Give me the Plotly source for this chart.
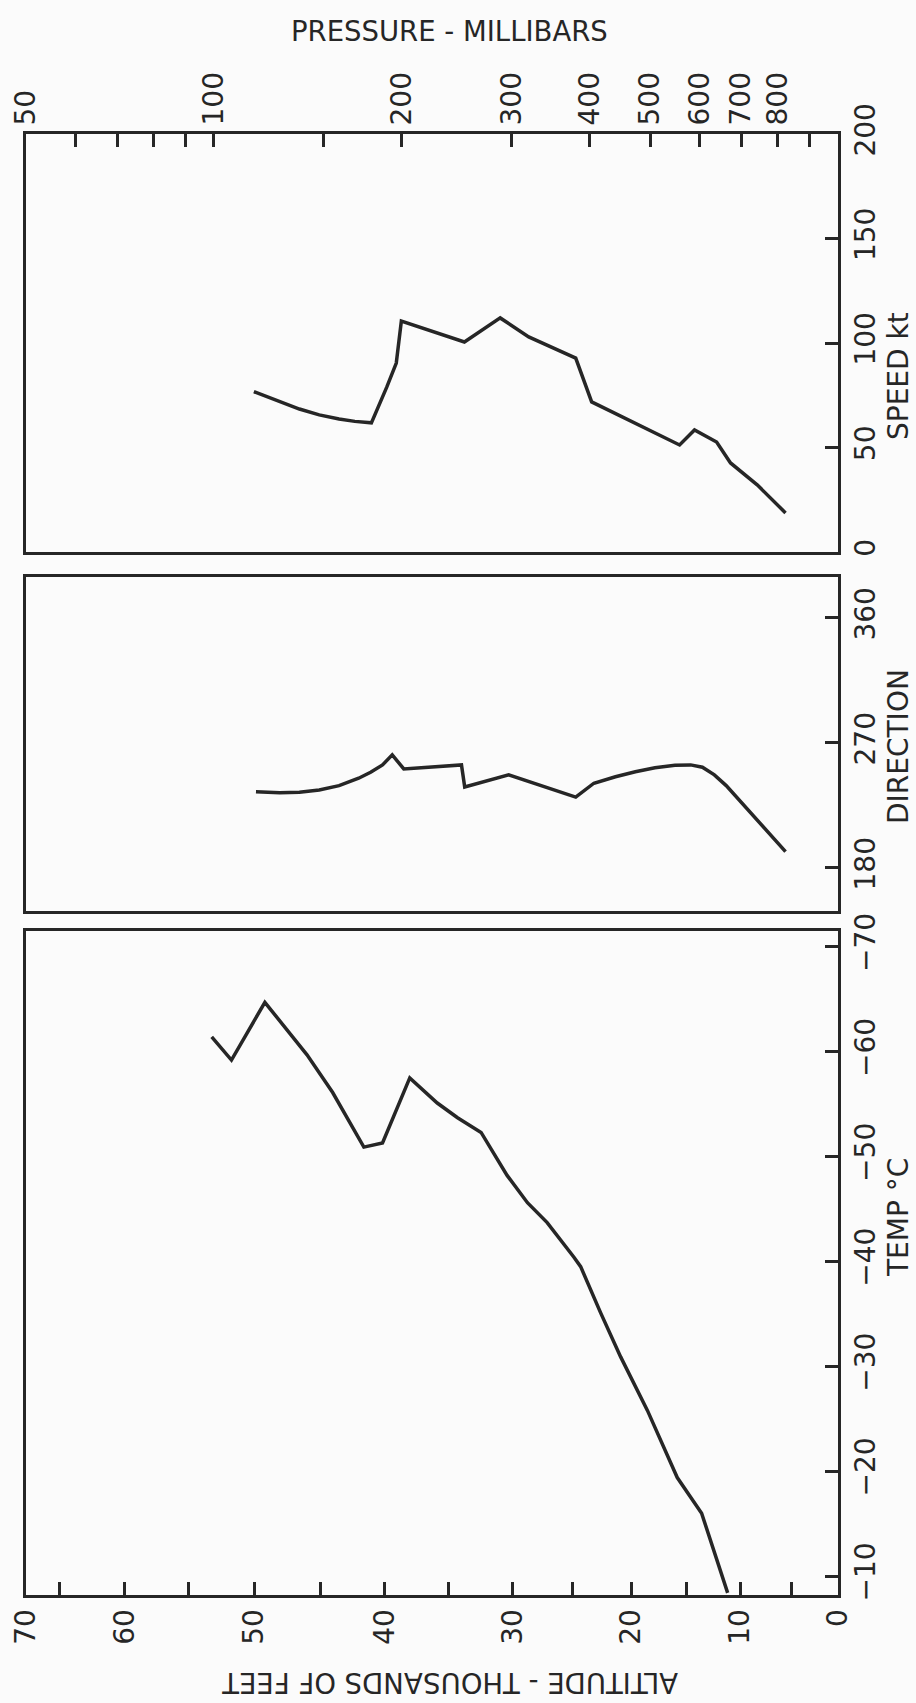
import math
import plotly.graph_objects as go

# ---------------- data ----------------
# top axis: pressure (mb), log scale
pressure_ticks = [50, 60, 70, 80, 90, 100, 150, 200, 300, 400, 500, 600, 700, 800, 900]
pressure_labels = ["50", "", "", "", "", "100", "", "200", "300", "400", "500", "600", "700", "800", ""]

# bottom axis: altitude (thousands of feet) ticks, located at their pressure levels
altitude_tick_pressure = [50, 56.5, 72, 91, 116, 148, 188, 238, 301, 376, 466, 572, 697, 843, 1000]
altitude_labels = ["70", "", "60", "", "50", "", "40", "", "30", "", "20", "", "10", "", "0"]

speed_ticks = [0, 50, 100, 150, 200]
direction_ticks = [180, 270, 360]
temp_ticks = [-70, -60, -50, -40, -30, -20, -10]

# wind speed profile
speed_p = [115.9, 127.5, 137.1, 147.5, 158.7, 168.2, 178.8, 189.3, 196, 199.7, 252, 287.6,
           319.5, 380, 403, 557.4, 589, 639, 672.7, 743, 824]
speed_kt = [76.7, 71.9, 68.4, 65.6, 63.6, 62.5, 61.8, 79, 90.4, 110.5, 100.5, 112,
            102.9, 92.8, 71.8, 51.2, 58.4, 52.6, 42.6, 32, 18.7]

# wind direction profile
dir_p = [116.8, 127.5, 137.1, 147.5, 158.7, 170.6, 178.3, 186.3, 193.1, 201.5, 249.3,
         252.3, 296.7, 380, 406.3, 440, 473.5, 509, 548, 580.7, 606.4, 633.7, 662, 733, 824]
dir_deg = [234.9, 234.2, 234.5, 236.2, 239.3, 244.6, 248.9, 254.2, 261.4, 251.3, 254.2,
           238.3, 247, 231, 241, 245.7, 249.3, 252.2, 253.9, 254.2, 252.5, 247, 239.3, 216.9, 191.7]

# temperature profile
temp_p = [99.2, 106.7, 120.7, 141, 155, 173.9, 186.3, 206, 228, 245.7, 268, 295, 318,
          342, 377.5, 387, 416.6, 448.5, 495, 552.6, 604.6, 665.6]
temp_c = [-61.4, -59.2, -64.7, -59.7, -56.1, -50.9, -51.3, -57.5, -55.1, -53.7, -52.3,
          -48.2, -45.6, -43.7, -40.4, -39.5, -35.1, -30.9, -25.8, -19.4, -16, -8.4]

# ---------------- layout helpers ----------------
W, H = 916, 1703
INK = "#262626"
FONT = "DejaVu Sans"
XRANGE = [math.log10(50), math.log10(1000)]


def py(px):
    return 1 - px / H


xdom = [26 / W, 838 / W]

fig = go.Figure()
line = dict(color=INK, width=3.5)
fig.add_trace(go.Scatter(x=speed_p, y=speed_kt, mode="lines", line=line,
                         xaxis="x3", yaxis="y3", showlegend=False))
fig.add_trace(go.Scatter(x=dir_p, y=dir_deg, mode="lines", line=line,
                         xaxis="x2", yaxis="y2", showlegend=False))
fig.add_trace(go.Scatter(x=temp_p, y=temp_c, mode="lines", line=line,
                         xaxis="x", yaxis="y", showlegend=False))

frame = dict(showline=True, linecolor=INK, linewidth=2.8, mirror=True,
             showgrid=False, zeroline=False, automargin=False)
tickfont = dict(family=FONT, size=28, color=INK)
tk = dict(ticks="inside", ticklen=13, tickwidth=2.6, tickcolor=INK,
          tickangle=-90, tickfont=tickfont)

fig.update_layout(
    width=W, height=H,
    margin=dict(l=0, r=0, t=0, b=0, autoexpand=False),
    paper_bgcolor="#fbfbfb", plot_bgcolor="#fbfbfb",
    xaxis=dict(domain=xdom, anchor="y", type="log", range=XRANGE, side="bottom",
               tickmode="array", tickvals=altitude_tick_pressure, ticktext=altitude_labels,
               **tk, **frame),
    xaxis2=dict(domain=xdom, anchor="y2", type="log", range=XRANGE,
                showticklabels=False, ticks="", **frame),
    xaxis3=dict(domain=xdom, anchor="y3", type="log", range=XRANGE, side="top",
                tickmode="array", tickvals=pressure_ticks, ticktext=pressure_labels,
                **tk, **frame),
    yaxis=dict(domain=[py(1595), py(931)], anchor="x", side="right",
               range=[-8.2, -71.5], tickmode="array", tickvals=temp_ticks,
               **tk, **frame),
    yaxis2=dict(domain=[py(911), py(577)], anchor="x2", side="right",
                range=[149, 389.5], tickmode="array", tickvals=direction_ticks,
                **tk, **frame),
    yaxis3=dict(domain=[py(552), py(134)], anchor="x3", side="right",
                range=[0, 200], tickmode="array", tickvals=speed_ticks,
                **tk, **frame),
)

title_font = dict(family=FONT, size=27.5, color=INK)
side_font = dict(family=FONT, size=28, color=INK)
annotations = [
    dict(text="PRESSURE - MILLIBARS", x=449 / W, y=py(31), textangle=0, font=title_font),
    dict(text="ALTITUDE - THOUSANDS OF FEET", x=450 / W, y=py(1683), textangle=180, font=title_font),
    dict(text="SPEED kt", x=898 / W, y=py(376), textangle=-90, font=side_font),
    dict(text="DIRECTION", x=898 / W, y=py(747), textangle=-90, font=side_font),
    dict(text="TEMP °C", x=898 / W, y=py(1218), textangle=-90, font=side_font),
]
for a in annotations:
    fig.add_annotation(xref="paper", yref="paper", showarrow=False,
                       xanchor="center", yanchor="middle", borderpad=0, **a)

fig.write_html("out.html")
